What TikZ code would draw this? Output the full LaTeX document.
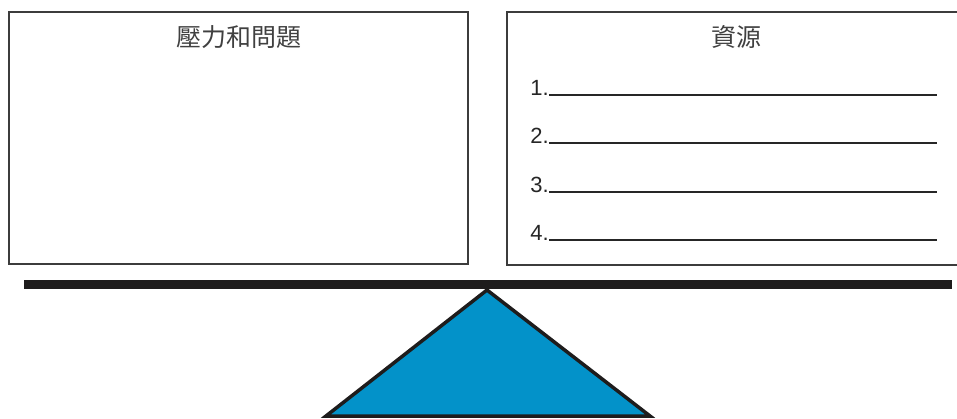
\documentclass[tikz,border=0pt]{standalone}
\usepackage{fontspec}
\setmainfont{Liberation Sans}
\newfontfamily\cjk{Noto Sans CJK TC}
\definecolor{boxgray}{RGB}{60,60,60}
\definecolor{fulcrum}{RGB}{3,146,201}
\definecolor{barblack}{RGB}{30,28,28}
\begin{document}
\begin{tikzpicture}[x=1pt,y=-1pt,
  panel/.style={draw=boxgray,line width=1.4pt,inner sep=0pt},
  title/.style={font=\cjk\fontsize{25}{29}\selectfont,text=black!75,inner sep=0pt},
  numlab/.style={font=\fontsize{22}{26}\selectfont,text=black!85,anchor=base east,inner sep=0pt},
  blank/.style={draw=black!85,line width=1.8pt}]
\useasboundingbox (0,0) rectangle (957,418);
\clip (0,0) rectangle (957,418);
% panels
\node[panel,minimum width=459pt,minimum height=252pt] (left) at (238.5,138) {};
\node[panel,minimum width=459pt,minimum height=253pt] (right) at (736.5,138.5) {};
\node[title] (lt) at (238.5,37) {壓力和問題};
\node[title] (rt) at (736.5,37) {資源};
% numbered blanks
\foreach \i/\y in {1/95,2/143,3/192,4/240}{
  \coordinate (s\i) at (549,\y);
  \coordinate (e\i) at (937,\y);
  \node[numlab] (n\i) at (s\i) {\i.};
  \draw[blank] (s\i) -- (e\i);
}
% seesaw
\coordinate (bl) at (24,284.5);
\coordinate (br) at (952,284.5);
\draw[barblack,line width=8.5pt] (bl) -- (br);
\coordinate (apex) at (487,290);
\coordinate (baseL) at (326,416);
\coordinate (baseR) at (650,416);
\draw[fill=fulcrum,draw=barblack,line width=3.5pt,line join=miter] (apex) -- (baseR) -- (baseL) -- cycle;
\end{tikzpicture}
\end{document}
